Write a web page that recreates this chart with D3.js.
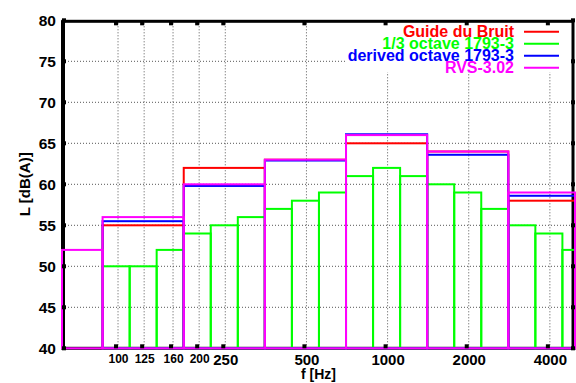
<!DOCTYPE html>
<html>
<head>
<meta charset="utf-8">
<script src="https://cdn.jsdelivr.net/npm/d3@7"></script>
<style>
    body { margin: 0; background: #fff; }
    svg text { font-family: 'Liberation Sans', Arial, sans-serif; font-weight: bold; fill: #000; }
</style>
</head>
<body>
<svg id="chart" width="576" height="383"></svg>
<script>
// band edges [Hz]
let octaveEdges = [44.2, 88.4, 176.8, 353.6, 707.1, 1414.2, 2828.4, 5656.9];
let thirdEdges = [88.4, 111.4, 140.3, 176.8, 222.7, 280.6, 353.6, 445.4, 561.2, 707.1,
    890.9, 1122.5, 1414.2, 1781.8, 2244.9, 2828.4, 3563.6, 4489.8, 5656.9];

// levels [dB(A)], octave bands 63..4000, third bands 100..5000
let guideBruit = [null, 55, 62, 63, 65, 64, 58];
let thirdOctave = [50, 50, 52, 54, 55, 56, 57, 58, 59, 61, 62, 61, 60, 59, 57, 55, 54, 52];
let derivedOctave = [null, 55.5, 59.8, 62.9, 66.1, 63.6, 58.6];
let rvs = [52, 56, 60, 63, 66, 64, 59];

let xTicks = [100, 125, 160, 200, 250, 500, 1000, 2000, 4000];
let smallTicks = [100, 125, 160, 200];
let yTicks = [40, 45, 50, 55, 60, 65, 70, 75, 80];

let series = [
    {name: 'Guide du Bruit', color: '#ff0000', edges: octaveEdges, values: guideBruit},
    {name: '1/3 octave 1793-3', color: '#00ff00', edges: thirdEdges, values: thirdOctave},
    {name: 'derived octave 1793-3', color: '#0000ff', edges: octaveEdges, values: derivedOctave},
    {name: 'RVS-3.02', color: '#ff00ff', edges: octaveEdges, values: rvs}
];

let pLeft = 62, pRight = 575, pTop = 20.3, pBottom = 348.3;

let x = d3.scaleLog().domain([62.5, 5000]).range([pLeft, pRight]).clamp(true);
let y = d3.scaleLinear().domain([40, 80]).range([pBottom, pTop]);

let svg = d3.select('#chart');

// grid
let grid = svg.append('g');
grid.selectAll('line.gx')
    .data(xTicks)
    .enter().append('line')
    .attr('x1', d => x(d) + 1).attr('x2', d => x(d) + 1)
    .attr('y1', pTop).attr('y2', pBottom)
    .attr('stroke', '#555').attr('stroke-dasharray', '1,2');
grid.selectAll('line.gy')
    .data(yTicks.slice(1, -1))
    .enter().append('line')
    .attr('x1', pLeft).attr('x2', pRight)
    .attr('y1', d => y(d)).attr('y2', d => y(d))
    .attr('stroke', '#555').attr('stroke-dasharray', '1,2');

// legend background hides the grid
svg.append('rect')
    .attr('x', 346).attr('y', pTop).attr('width', pRight - 346).attr('height', 52)
    .attr('fill', '#fff');

// border
svg.append('rect')
    .attr('x', pLeft + 1).attr('y', pTop + 1)
    .attr('width', pRight - pLeft - 3).attr('height', pBottom - pTop - 1)
    .attr('fill', 'none').attr('stroke', '#000').attr('stroke-width', 3);
svg.append('line')
    .attr('x1', pLeft + 1).attr('x2', pLeft + 1).attr('y1', pTop).attr('y2', pBottom + 1)
    .attr('stroke', '#000').attr('stroke-width', 4);

// boxes
series.forEach(s => {
    let g = svg.append('g');
    s.values.forEach((v, i) => {
        if (v === null) return;
        let x0 = x(s.edges[i]), x1 = x(s.edges[i + 1]);
        g.append('rect')
            .attr('x', x0).attr('y', y(v))
            .attr('width', x1 - x0).attr('height', y(40) - y(v))
            .attr('fill', 'none')
            .attr('stroke', s.color)
            .attr('stroke-width', 2);
    });
});

// tick marks
let ticks = svg.append('g').attr('fill', '#000');
xTicks.forEach(t => {
    ticks.append('rect').attr('x', x(t) - 3).attr('y', pTop + 1).attr('width', 4).attr('height', 4);
    ticks.append('rect').attr('x', x(t) - 3).attr('y', pBottom - 4).attr('width', 4).attr('height', 4);
});
yTicks.forEach(t => {
    ticks.append('rect').attr('x', pLeft).attr('y', y(t) - 2).attr('width', 4).attr('height', 4);
    ticks.append('rect').attr('x', pRight - 4).attr('y', y(t) - 2).attr('width', 4).attr('height', 4);
});

// y axis labels
let yAxis = d3.axisLeft(y).tickValues(yTicks).tickSize(0).tickPadding(0);
svg.append('g')
    .attr('transform', 'translate(56,0)')
    .call(yAxis)
    .call(g => g.select('.domain').remove())
    .selectAll('text')
    .style('font-size', '15.5px')
    .style('font-family', "'Liberation Sans', Arial, sans-serif")
    .style('font-weight', 'bold');

// x axis labels
let xAxis = d3.axisBottom(x).tickValues(xTicks).tickSize(0).tickPadding(0).tickFormat(d3.format('d'));
svg.append('g')
    .attr('transform', 'translate(1,' + (pBottom + 6) + ')')
    .call(xAxis)
    .call(g => g.select('.domain').remove())
    .selectAll('text')
    .style('font-size', d => smallTicks.indexOf(d) >= 0 ? '12px' : '15px')
    .style('font-family', "'Liberation Sans', Arial, sans-serif")
    .style('font-weight', 'bold');

// axis titles
svg.append('text')
    .attr('x', (pLeft + pRight) / 2).attr('y', 379)
    .attr('text-anchor', 'middle')
    .style('font-size', '14px')
    .text('f [Hz]');

svg.append('text')
    .attr('transform', 'translate(30,' + ((pTop + pBottom) / 2) + ') rotate(-90)')
    .attr('text-anchor', 'middle')
    .style('font-size', '15px')
    .text('L [dB(A)]');

// legend
let legend = svg.append('g');
series.forEach((s, i) => {
    let ly = 31.7 + i * 12;
    legend.append('text')
        .attr('x', 514).attr('y', ly + 5)
        .attr('text-anchor', 'end')
        .style('font-size', '16px')
        .style('fill', s.color)
        .text(s.name);
    legend.append('line')
        .attr('x1', 524).attr('x2', 559)
        .attr('y1', ly).attr('y2', ly)
        .attr('stroke', s.color).attr('stroke-width', 2);
});
</script>
</body>
</html>
